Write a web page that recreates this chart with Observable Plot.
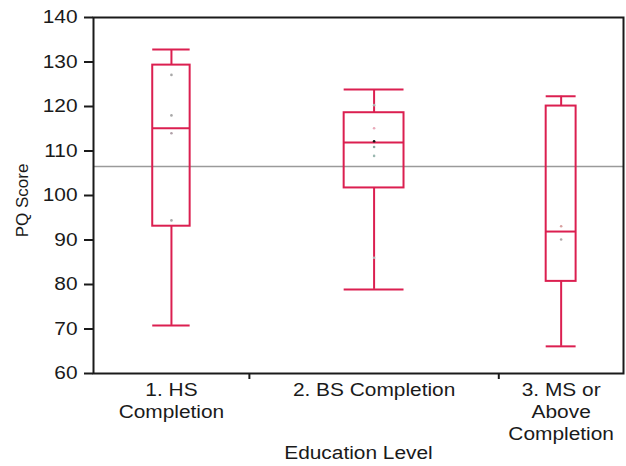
<!DOCTYPE html>
<html>
<head>
<meta charset="utf-8">
<script src="https://cdn.jsdelivr.net/npm/d3@7"></script>
<script src="https://cdn.jsdelivr.net/npm/@observablehq/plot@0.6"></script>
<style>
  html, body { margin: 0; padding: 0; background: #fff; }
  #chart svg { display: block; }
</style>
</head>
<body>
<div id="chart"></div>
<script>
// PQ score by education level: box plots, group widths proportional to sample size
const groups = ["1. HS\nCompletion", "2. BS Completion", "3. MS or\nAbove\nCompletion"];
const sampleSizes = [5, 8, 4];
const whiskerHigh = [132.8, 123.8, 122.3];
const upperQuartile = [129.3, 118.6, 120.1];
const medians = [115.1, 111.9, 91.9];
const lowerQuartile = [93.1, 101.7, 80.7];
const whiskerLow = [70.8, 78.9, 66.1];
const grandMean = 106.5;

// individual observations visible inside the boxes
const pointGroup = [0, 0, 0, 0, 1, 1, 1, 1, 1, 1, 2, 2];
const pointValue = [127.1, 118.0, 114.0, 94.4, 120.3, 115.1, 112.2, 110.9, 108.9, 86.0, 93.1, 90.1];
const pointColor = ["#a8a8a8", "#a8a8a8", "#b0a0a8", "#a8a8a8", "#b0b0b0", "#e9a9b9", "#111111", "#8fa3a0", "#9ab8b0", "#b8b8b8", "#d9a0a0", "#b0a8a8"];

const yTicks = [60, 70, 80, 90, 100, 110, 120, 130, 140];

const boxColor = "#db1f50";
const boxFrac = 0.12;

// cumulative spans along the x axis
const starts = d3.cumsum([0, ...sampleSizes]).slice(0, sampleSizes.length);
const total = d3.sum(sampleSizes);
const boundaries = starts.slice(1);

const boxes = groups.map((label, i) => ({
  label,
  center: starts[i] + sampleSizes[i] / 2,
  half: sampleSizes[i] * boxFrac,
  hi: whiskerHigh[i],
  q3: upperQuartile[i],
  med: medians[i],
  q1: lowerQuartile[i],
  lo: whiskerLow[i]
}));

const points = pointValue.map((v, i) => ({
  x: boxes[pointGroup[i]].center,
  y: v,
  color: pointColor[i]
}));

const bx1 = d => d.center - d.half;
const bx2 = d => d.center + d.half;

const chart = Plot.plot({
  width: 626,
  height: 466,
  marginLeft: 93,
  marginRight: 3,
  marginTop: 17,
  marginBottom: 93,
  style: { fontFamily: "'Liberation Sans', Arial, sans-serif", fontSize: "18px", color: "#1a1a1a", background: "#fff" },
  x: { type: "linear", domain: [0, total] },
  y: { domain: [60, 140] },
  marks: [
    Plot.ruleY([grandMean], { stroke: "#9a9a9a", strokeWidth: 1.5 }),
    Plot.rect(boxes, { x1: bx1, x2: bx2, y1: "q1", y2: "q3", fill: "none", stroke: boxColor, strokeWidth: 2 }),
    Plot.ruleY(boxes, { y: "med", x1: bx1, x2: bx2, stroke: boxColor, strokeWidth: 2 }),
    Plot.ruleX(boxes, { x: "center", y1: "q3", y2: "hi", stroke: boxColor, strokeWidth: 2 }),
    Plot.ruleX(boxes, { x: "center", y1: "lo", y2: "q1", stroke: boxColor, strokeWidth: 2 }),
    Plot.ruleY(boxes, { y: "hi", x1: bx1, x2: bx2, stroke: boxColor, strokeWidth: 2 }),
    Plot.ruleY(boxes, { y: "lo", x1: bx1, x2: bx2, stroke: boxColor, strokeWidth: 2 }),
    Plot.dot(points, { x: "x", y: "y", r: 1.3, fill: "color", stroke: null }),
    Plot.frame({ stroke: "#1a1a1a", strokeWidth: 2 }),
    Plot.axisY({ ticks: yTicks, tickSize: 9, tickPadding: 7, label: null, strokeWidth: 2, stroke: "#1a1a1a" }),
    Plot.axisX({ ticks: boundaries, tickSize: 6, tickFormat: () => "", label: null, strokeWidth: 2, stroke: "#1a1a1a" }),
    Plot.text(boxes, { x: "center", text: "label", frameAnchor: "bottom", lineAnchor: "top", dy: 7, lineHeight: 1.22 }),
    Plot.text(["Education Level"], { frameAnchor: "bottom", lineAnchor: "top", dy: 73 }),
    Plot.text(["PQ Score"], { frameAnchor: "left", textAnchor: "middle", rotate: -90, dx: -71, dy: 5, fontSize: 17 })
  ]
});

// widen horizontal lettering, keeping each anchor point fixed
const stretch = 1.16;
chart.querySelectorAll("text").forEach(t => {
  const tr = t.getAttribute("transform") || "";
  if (tr.includes("rotate")) return;
  const xa = t.getAttribute("x");
  const x = xa && /^-?[\d.]+$/.test(xa.trim()) ? +xa : 0;
  t.setAttribute("transform", `${tr} translate(${x},0) scale(${stretch},1) translate(${-x},0)`.trim());
});

document.getElementById("chart").appendChild(chart);
</script>
</body>
</html>
